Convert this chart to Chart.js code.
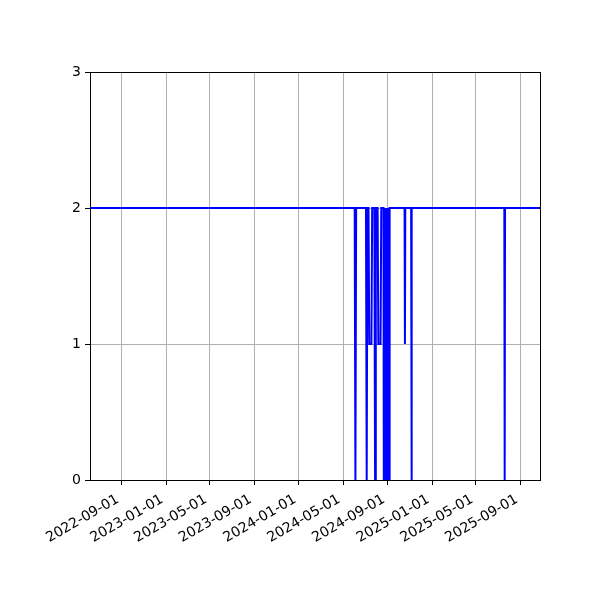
<!DOCTYPE html>
<html>
<head>
<meta charset="utf-8">
<script src="https://cdn.jsdelivr.net/npm/chart.js@4"></script>
<style>
html,body{margin:0;padding:0;background:#fff;}
#wrap{width:600px;height:600px;}
</style>
</head>
<body>
<div id="wrap"><canvas id="c" width="600" height="600"></canvas></div>
<script>
// ---- data ----
const dates = [
  "2022-06-06","2024-06-02","2024-06-04","2024-06-06",
  "2024-07-03","2024-07-05","2024-07-07","2024-07-10","2024-07-12","2024-07-18","2024-07-20",
  "2024-07-26","2024-07-28","2024-07-30","2024-08-04","2024-08-06","2024-08-12","2024-08-14",
  "2024-08-20","2024-08-21","2024-08-23","2024-08-24","2024-08-26","2024-08-27","2024-08-29",
  "2024-08-30","2024-09-01","2024-09-02","2024-09-04","2024-09-05","2024-09-06",
  "2024-10-17","2024-10-18","2024-10-19","2024-11-04","2024-11-05","2024-11-06",
  "2025-07-18","2025-07-19","2025-07-20","2025-10-24"
];
const values = [
  2,2,0,2,
  2,0,2,2,1,1,2,
  2,0,2,2,1,1,2,
  2,0,2,0,2,0,2,
  0,2,0,2,0,2,
  2,1,2,2,0,2,
  2,0,2,2
];
const xTickLabels = ["2022-09-01","2023-01-01","2023-05-01","2023-09-01","2024-01-01",
  "2024-05-01","2024-09-01","2025-01-01","2025-05-01","2025-09-01"];
const yTicks = [0,1,2,3];
const xMin = "2022-06-06";
const xMax = "2025-10-24";

const toMs = s => Date.parse(s + "T00:00:00Z");
const points = dates.map((d,i)=>({x: toMs(d), y: values[i]}));
const tickMs = xTickLabels.map(toMs);

const boxPlugin = {
  id:'box',
  afterDraw(chart){
    const a = chart.chartArea, ctx = chart.ctx;
    ctx.save();
    ctx.strokeStyle = '#000';
    ctx.lineWidth = 1;
    ctx.beginPath();
    ctx.moveTo(Math.round(a.left), Math.round(a.top)+0.5);
    ctx.lineTo(Math.round(a.right)+1, Math.round(a.top)+0.5);
    ctx.moveTo(Math.round(a.right)+0.5, Math.round(a.top));
    ctx.lineTo(Math.round(a.right)+0.5, Math.round(a.bottom)+1);
    ctx.stroke();
    ctx.restore();
  }
};

const font = {family:'DejaVu Sans', size:14};

new Chart(document.getElementById('c'), {
  type:'line',
  data:{datasets:[{
    data: points,
    borderColor:'#0000ff',
    borderWidth:2,
    pointRadius:0,
    tension:0,
    fill:false
  }]},
  options:{
    responsive:false,
    animation:false,
    devicePixelRatio:1,
    layout:{padding:{top:72,right:60,left:0,bottom:0}},
    plugins:{legend:{display:false},tooltip:{enabled:false}},
    scales:{
      x:{
        type:'linear',
        min: toMs(xMin),
        max: toMs(xMax),
        afterBuildTicks(scale){ scale.ticks = tickMs.map(v=>({value:v})); },
        afterFit(scale){ scale.height = 120; },
        ticks:{
          autoSkip:false, minRotation:30, maxRotation:30,
          color:'#000', font, padding:4,
          callback:(v)=>{ const i = tickMs.indexOf(v); return i>=0 ? xTickLabels[i] + ' ' : ''; }
        },
        grid:{color:'#b0b0b0', lineWidth:1, tickColor:'#000', tickLength:5},
        border:{color:'#000', width:1}
      },
      y:{
        type:'linear',
        min: yTicks[0],
        max: yTicks[yTicks.length-1],
        afterBuildTicks(scale){ scale.ticks = yTicks.map(v=>({value:v})); },
        afterFit(scale){ scale.width = 90; },
        ticks:{color:'#000', font, padding:4, callback:(v)=>String(v)},
        grid:{color:'#b0b0b0', lineWidth:1, tickColor:'#000', tickLength:5},
        border:{color:'#000', width:1}
      }
    }
  },
  plugins:[boxPlugin]
});
</script>
</body>
</html>
